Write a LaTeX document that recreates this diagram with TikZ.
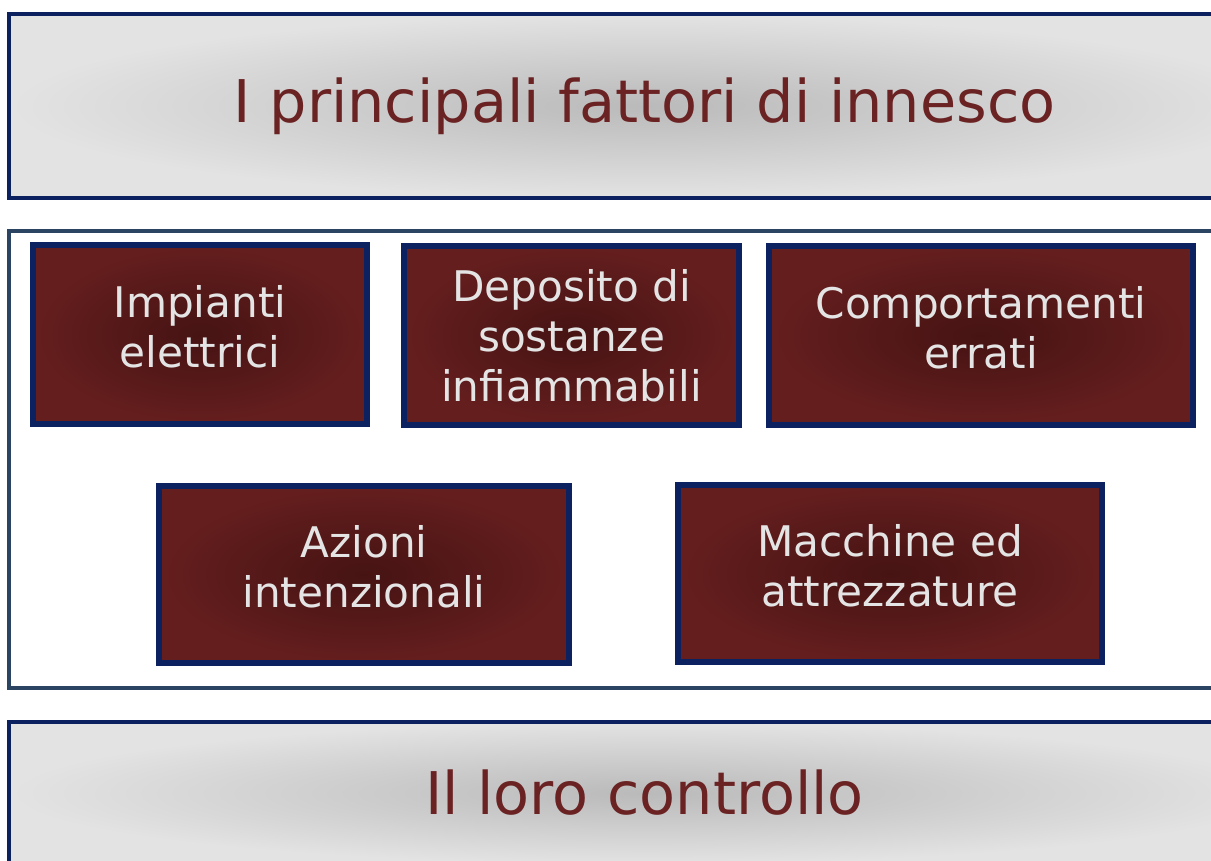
\documentclass[tikz,border=0pt]{standalone}
\usepackage{fontspec}
\setmainfont{DejaVu Sans}
\usepackage{tikz}
\usetikzlibrary{calc}
\usepackage{xcolor}
\definecolor{mynavy}{HTML}{0B2160}
\definecolor{myslate}{HTML}{2B4462}
\definecolor{mydarkred}{HTML}{6A2222}
\definecolor{redin}{HTML}{461313}
\definecolor{redout}{HTML}{651E1E}
\definecolor{grayin}{HTML}{BABABA}
\definecolor{grayout}{HTML}{E3E3E3}
\definecolor{mylight}{HTML}{E4E4E4}
\tikzstyle{band}=[draw=mynavy,line width=2.4pt,inner color=grayin,outer color=grayout,text=mydarkred,font=\fontsize{33.5}{38}\selectfont,minimum width=25.42cm]
\tikzstyle{factor}=[draw=mynavy,line width=3pt,inner color=redin,outer color=redout,text=mylight,align=center,font=\fontsize{24}{28.5}\selectfont]
% deeper last line, lifts two-line labels a little
\newcommand{\lift}{\rule[-9pt]{0pt}{0pt}}

\begin{document}
\begin{tikzpicture}[x=0.02cm,y=-0.02cm]

    \useasboundingbox (0,0) rectangle (1211,860);
    \clip (0,0) rectangle (1211,860);

    \node[band,minimum height=3.68cm] (title) at (644.5,106) {I principali fattori di innesco};
    \node[draw=myslate,line width=2.4pt,minimum width=25.42cm,minimum height=9.14cm] (frame) at (644.5,459.5) {};
    \node[band,minimum height=2.84cm] (control) at (644.5,793) {Il loro controllo};

    \node[factor,minimum width=6.68cm,minimum height=3.58cm] (impianti) at (200,334.5) {Impianti\\elettrici\lift};
    \node[factor,minimum width=6.70cm,minimum height=3.58cm] (deposito) at (571.5,335.5) {Deposito di\\sostanze\\infiammabili};
    \node[factor,minimum width=8.48cm,minimum height=3.58cm] (comport) at (981,335.5) {Comportamenti\\errati\lift};
    \node[factor,minimum width=8.20cm,minimum height=3.54cm] (azioni) at (364,574.5) {Azioni\\intenzionali\lift};
    \node[factor,minimum width=8.48cm,minimum height=3.54cm] (macchine) at (890,573.5) {Macchine ed\\attrezzature\lift};

\end{tikzpicture}
\end{document}
